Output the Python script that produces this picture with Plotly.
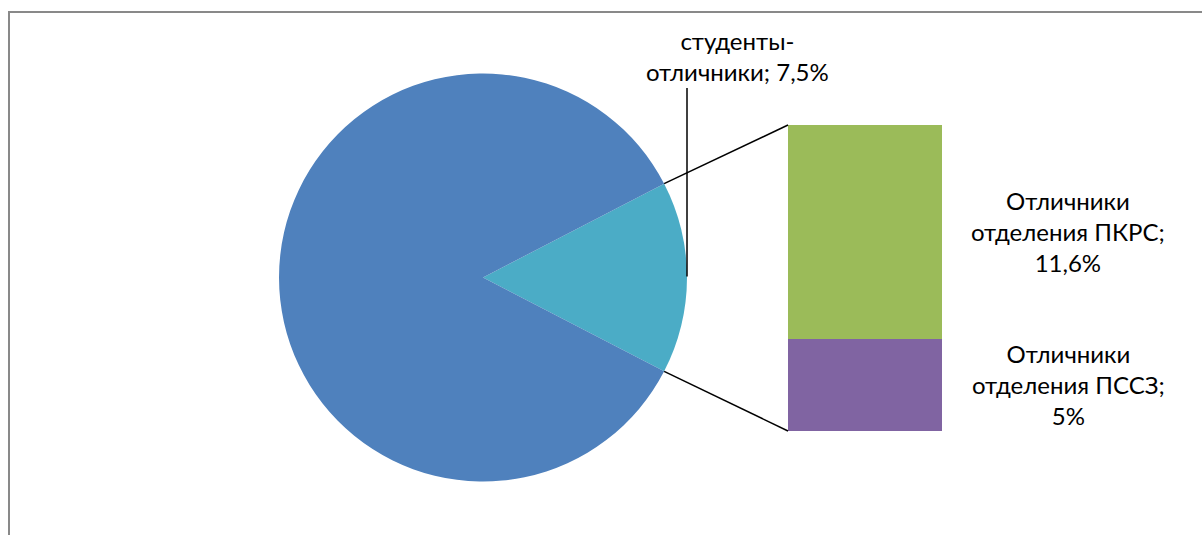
import math
import plotly.graph_objects as go

# ---- data ----
pie_labels = ["студенты-отличники", "студенты"]
main_value = 92.5                     # blue slice (no label shown)
bar_labels = ["Отличники отделения ПКРС", "Отличники отделения ПССЗ"]
bar_values = [11.6, 5.0]
bar_texts = ["Отличники<br>отделения ПКРС;<br>11,6%", "Отличники<br>отделения ПССЗ;<br>5%"]
other_text = "студенты-<br>отличники; 7,5%"

other_value = sum(bar_values)
pie_values = [other_value, main_value]
total = sum(pie_values)

W, H = 1202, 535
BLUE, TEAL, GREEN, PURPLE = "#4F81BD", "#4BACC6", "#9BBB59", "#8064A2"
FONT = dict(family="Lato, Open Sans, sans-serif", size=24, color="#000000")

# layout geometry (pixels)
cx, cy, r = 483.0, 277.5, 204.0
bar_x0, bar_x1 = 788.0, 942.0
bar_top, bar_bot = 125.0, 431.0

def px(x):
    return x / W

def py(y):
    return 1 - y / H

half = 180.0 * other_value / total
rotation = 90 - half

fig = go.Figure()
fig.add_trace(go.Pie(
    labels=pie_labels, values=pie_values, sort=False, direction="clockwise",
    rotation=rotation, textinfo="none", hoverinfo="label+value",
    marker=dict(colors=[TEAL, BLUE], line=dict(width=0)),
    domain=dict(x=[px(cx - r), px(cx + r)], y=[py(cy + r), py(cy - r)]),
    showlegend=False,
))

# stacked bar: bottom segment (ПССЗ) first, then top segment (ПКРС)
bar_colors = [GREEN, PURPLE]
stack = list(zip(bar_labels, bar_values, bar_colors, bar_texts))[::-1]
cum = 0.0
for lab, val, col, txt in stack:
    fig.add_trace(go.Bar(
        x=[0], y=[val], name=lab, marker=dict(color=col, line=dict(width=0)),
        xaxis="x", yaxis="y", showlegend=False, width=1,
    ))
    fig.add_annotation(x=px(1068), xref="paper", y=cum + val / 2, yref="y",
                       text=txt, showarrow=False, font=FONT, align="center",
                       xanchor="center", yanchor="middle")
    cum += val

# connector lines from pie slice edge to bar corners
a = math.radians(half)
top_pt = (cx + r * math.cos(a), cy - r * math.sin(a))
bot_pt = (cx + r * math.cos(a), cy + r * math.sin(a))
line_style = dict(color="#000000", width=1.5)
fig.add_shape(type="line", xref="paper", yref="paper",
              x0=px(top_pt[0]), y0=py(top_pt[1]), x1=px(bar_x0), y1=py(bar_top), line=line_style)
fig.add_shape(type="line", xref="paper", yref="paper",
              x0=px(bot_pt[0]), y0=py(bot_pt[1]), x1=px(bar_x0), y1=py(bar_bot), line=line_style)

# leader line for the pie label
fig.add_shape(type="line", xref="paper", yref="paper",
              x0=px(cx + r), y0=py(cy - 1), x1=px(cx + r), y1=py(88), line=line_style)
fig.add_annotation(x=px(737), y=py(56), xref="paper", yref="paper", text=other_text,
                   showarrow=False, font=FONT, align="center", xanchor="center", yanchor="middle")

# chart area border
fig.add_shape(type="rect", xref="paper", yref="paper",
              x0=px(9), y0=py(H + 20), x1=px(W + 20), y1=py(12),
              line=dict(color="#898989", width=2), fillcolor="rgba(0,0,0,0)", layer="below")

fig.update_layout(
    width=W, height=H, margin=dict(l=0, r=0, t=0, b=0),
    paper_bgcolor="white", plot_bgcolor="rgba(0,0,0,0)",
    barmode="stack", bargap=0,
    xaxis=dict(domain=[px(bar_x0), px(bar_x1)], range=[-0.5, 0.5], visible=False, fixedrange=True),
    yaxis=dict(domain=[py(bar_bot), py(bar_top)], range=[0, other_value], visible=False, fixedrange=True),
    font=FONT,
)

fig.write_html("out.html", config={"displayModeBar": False},
               post_script="document.body.style.margin='0';document.body.style.overflow='hidden';")
